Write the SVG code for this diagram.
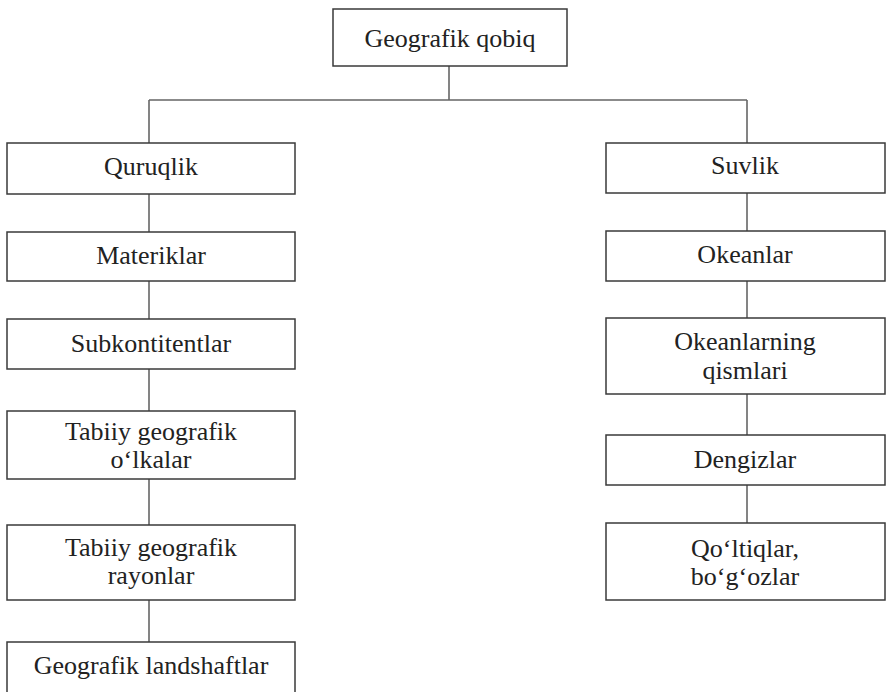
<svg xmlns="http://www.w3.org/2000/svg" width="888" height="692" viewBox="0 0 888 692">
<style>
.box{fill:#fff;stroke:#3a3a3a;stroke-width:1.5}
.t{font-family:'Liberation Serif','DejaVu Serif','Times New Roman',serif;font-size:26px;fill:#222;text-anchor:middle}
.c{stroke:#666;stroke-width:1.6;fill:none}
</style>
<rect width="888" height="692" fill="#fff"/>
<g id="connectors">
<path class="c" d="M449 66V100M149 100H747M149 100V143M747 100V143"/>
<path class="c" d="M149 194V232M149 281V319M149 369V411M149 479V525M149 600V642"/>
<path class="c" d="M747 193V231M747 281V318M747 394V435M747 485V523"/>
</g>
<g id="n-geografik-qobiq"><rect class="box" x="333" y="9" width="234" height="57"/><text class="t" x="450" y="47">Geografik qobiq</text></g>
<g id="n-quruqlik"><rect class="box" x="7" y="143" width="288" height="51"/><text class="t" x="151" y="175">Quruqlik</text></g>
<g id="n-materiklar"><rect class="box" x="7" y="232" width="288" height="49"/><text class="t" x="151" y="264">Materiklar</text></g>
<g id="n-subkontitentlar"><rect class="box" x="7" y="319" width="288" height="50"/><text class="t" x="151" y="352">Subkontitentlar</text></g>
<g id="n-tabiiy-olkalar"><rect class="box" x="7" y="411" width="288" height="68"/><text class="t" x="151" y="440">Tabiiy geografik</text><text class="t" x="151" y="468">o‘lkalar</text></g>
<g id="n-tabiiy-rayonlar"><rect class="box" x="7" y="525" width="288" height="75"/><text class="t" x="151" y="556">Tabiiy geografik</text><text class="t" x="151" y="584">rayonlar</text></g>
<g id="n-landshaftlar"><rect class="box" x="7" y="642" width="288" height="70"/><text class="t" x="151" y="674">Geografik landshaftlar</text></g>
<g id="n-suvlik"><rect class="box" x="606" y="143" width="279" height="50"/><text class="t" x="745" y="174">Suvlik</text></g>
<g id="n-okeanlar"><rect class="box" x="606" y="231" width="279" height="50"/><text class="t" x="745" y="263">Okeanlar</text></g>
<g id="n-okeanlarning-qismlari"><rect class="box" x="606" y="318" width="279" height="76"/><text class="t" x="745" y="350">Okeanlarning</text><text class="t" x="745" y="379">qismlari</text></g>
<g id="n-dengizlar"><rect class="box" x="606" y="435" width="279" height="50"/><text class="t" x="745" y="468">Dengizlar</text></g>
<g id="n-qoltiqlar"><rect class="box" x="606" y="523" width="279" height="77"/><text class="t" x="745" y="557">Qo‘ltiqlar,</text><text class="t" x="745" y="585">bo‘g‘ozlar</text></g>
</svg>
